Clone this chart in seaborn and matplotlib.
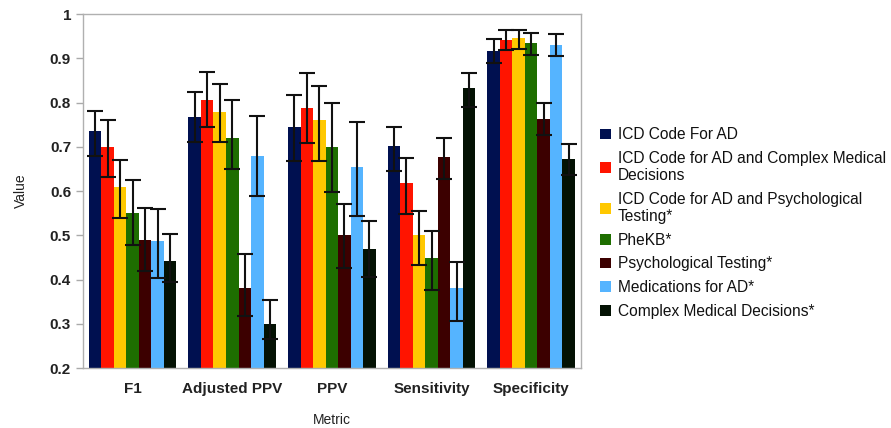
import matplotlib
matplotlib.use("Agg")
import matplotlib.pyplot as plt
import numpy as np
import pandas as pd
import seaborn as sns

metrics = ["F1", "Adjusted PPV", "PPV", "Sensitivity", "Specificity"]
methods = [
    "ICD Code For AD",
    "ICD Code for AD and Complex Medical\nDecisions",
    "ICD Code for AD and Psychological\nTesting*",
    "PheKB*",
    "Psychological Testing*",
    "Medications for AD*",
    "Complex Medical Decisions*",
]
colors = ["#001050", "#ff1400", "#ffc800", "#1e6e00", "#3c0000", "#55b4ff", "#041204"]

# one list per method, values in metric order
icd_ad = [0.735, 0.767, 0.745, 0.702, 0.917]
icd_cmd = [0.700, 0.805, 0.787, 0.618, 0.941]
icd_psych = [0.610, 0.778, 0.760, 0.501, 0.945]
phekb = [0.550, 0.720, 0.699, 0.448, 0.934]
psych = [0.490, 0.380, 0.500, 0.678, 0.762]
meds = [0.487, 0.679, 0.655, 0.380, 0.931]
cmd = [0.443, 0.300, 0.469, 0.834, 0.672]

# confidence interval bounds
icd_ad_lo = [0.680, 0.710, 0.668, 0.646, 0.890]
icd_ad_hi = [0.782, 0.823, 0.818, 0.745, 0.944]
icd_cmd_lo = [0.633, 0.745, 0.709, 0.548, 0.918]
icd_cmd_hi = [0.760, 0.870, 0.868, 0.674, 0.965]
icd_psych_lo = [0.540, 0.710, 0.668, 0.433, 0.922]
icd_psych_hi = [0.670, 0.843, 0.837, 0.556, 0.965]
phekb_lo = [0.478, 0.650, 0.597, 0.376, 0.907]
phekb_hi = [0.625, 0.805, 0.799, 0.510, 0.958]
psych_lo = [0.420, 0.317, 0.427, 0.627, 0.726]
psych_hi = [0.562, 0.458, 0.570, 0.720, 0.799]
meds_lo = [0.403, 0.590, 0.543, 0.307, 0.905]
meds_hi = [0.560, 0.769, 0.756, 0.440, 0.955]
cmd_lo = [0.395, 0.265, 0.405, 0.789, 0.636]
cmd_hi = [0.502, 0.355, 0.533, 0.867, 0.706]

values = [icd_ad, icd_cmd, icd_psych, phekb, psych, meds, cmd]
lows = [icd_ad_lo, icd_cmd_lo, icd_psych_lo, phekb_lo, psych_lo, meds_lo, cmd_lo]
highs = [icd_ad_hi, icd_cmd_hi, icd_psych_hi, phekb_hi, psych_hi, meds_hi, cmd_hi]

rows = []
for m, vals, lo, hi in zip(methods, values, lows, highs):
    for metric, v, l, h in zip(metrics, vals, lo, hi):
        rows.append({"Metric": metric, "Method": m, "Value": v, "lo": l, "hi": h})
df = pd.DataFrame(rows)

sns.set_style("white")
plt.rcParams["font.family"] = ["Liberation Sans", "DejaVu Sans"]

fig, ax = plt.subplots(figsize=(8.91, 4.28), dpi=100)
fig.subplots_adjust(left=0.093, right=0.652, top=0.967, bottom=0.14)

sns.barplot(
    data=df, x="Metric", y="Value", hue="Method", order=metrics, hue_order=methods,
    palette=colors, errorbar=None, width=0.88, saturation=1, ax=ax,
    edgecolor="none", linewidth=0,
)

# error bars on top of each bar, using the bar positions seaborn produced
for i, m in enumerate(methods):
    container = ax.containers[i]
    sub = df[df["Method"] == m].set_index("Metric").loc[metrics]
    xs = [p.get_x() + p.get_width() / 2 for p in container.patches]
    ys = sub["Value"].to_numpy()
    yerr = np.vstack([ys - sub["lo"].to_numpy(), sub["hi"].to_numpy() - ys])
    ax.errorbar(xs, ys, yerr=yerr, fmt="none", ecolor="#111111",
                elinewidth=1.5, capsize=5.5, capthick=1.5, zorder=5)

ax.set_ylim(0.2, 1.0)
ax.set_xlim(-0.5, len(metrics) - 0.5)
ax.set_yticks(np.arange(0.2, 1.01, 0.1))
ax.set_yticklabels(["0.2", "0.3", "0.4", "0.5", "0.6", "0.7", "0.8", "0.9", "1"])
ax.set_xticks(np.arange(len(metrics)))
ax.set_xticks(np.arange(-0.5, len(metrics), 1.0), minor=True)
ax.tick_params(axis="x", which="major", length=0, labelsize=11, pad=10)
ax.tick_params(axis="x", which="minor", length=5, color="#aaaaaa", width=1)
ax.tick_params(axis="y", length=5, color="#aaaaaa", width=1, labelsize=11, left=True)
for lbl in ax.get_xticklabels() + ax.get_yticklabels():
    lbl.set_fontweight("bold")
    lbl.set_color("#222222")

for s in ax.spines.values():
    s.set_color("#b0b0b0")
    s.set_linewidth(1)

ax.set_xlabel("Metric", fontsize=10, color="#222222", labelpad=12)
ax.set_ylabel("Value", fontsize=10, color="#222222", labelpad=16)

leg = ax.legend(
    loc="center left", bbox_to_anchor=(1.01, 0.41), frameon=False,
    fontsize=11.2, handlelength=0.7, handleheight=0.7, handletextpad=0.45,
    labelspacing=0.55,
)
for t in leg.get_texts():
    t.set_color("#111111")

fig.savefig("out.png", dpi=100)
